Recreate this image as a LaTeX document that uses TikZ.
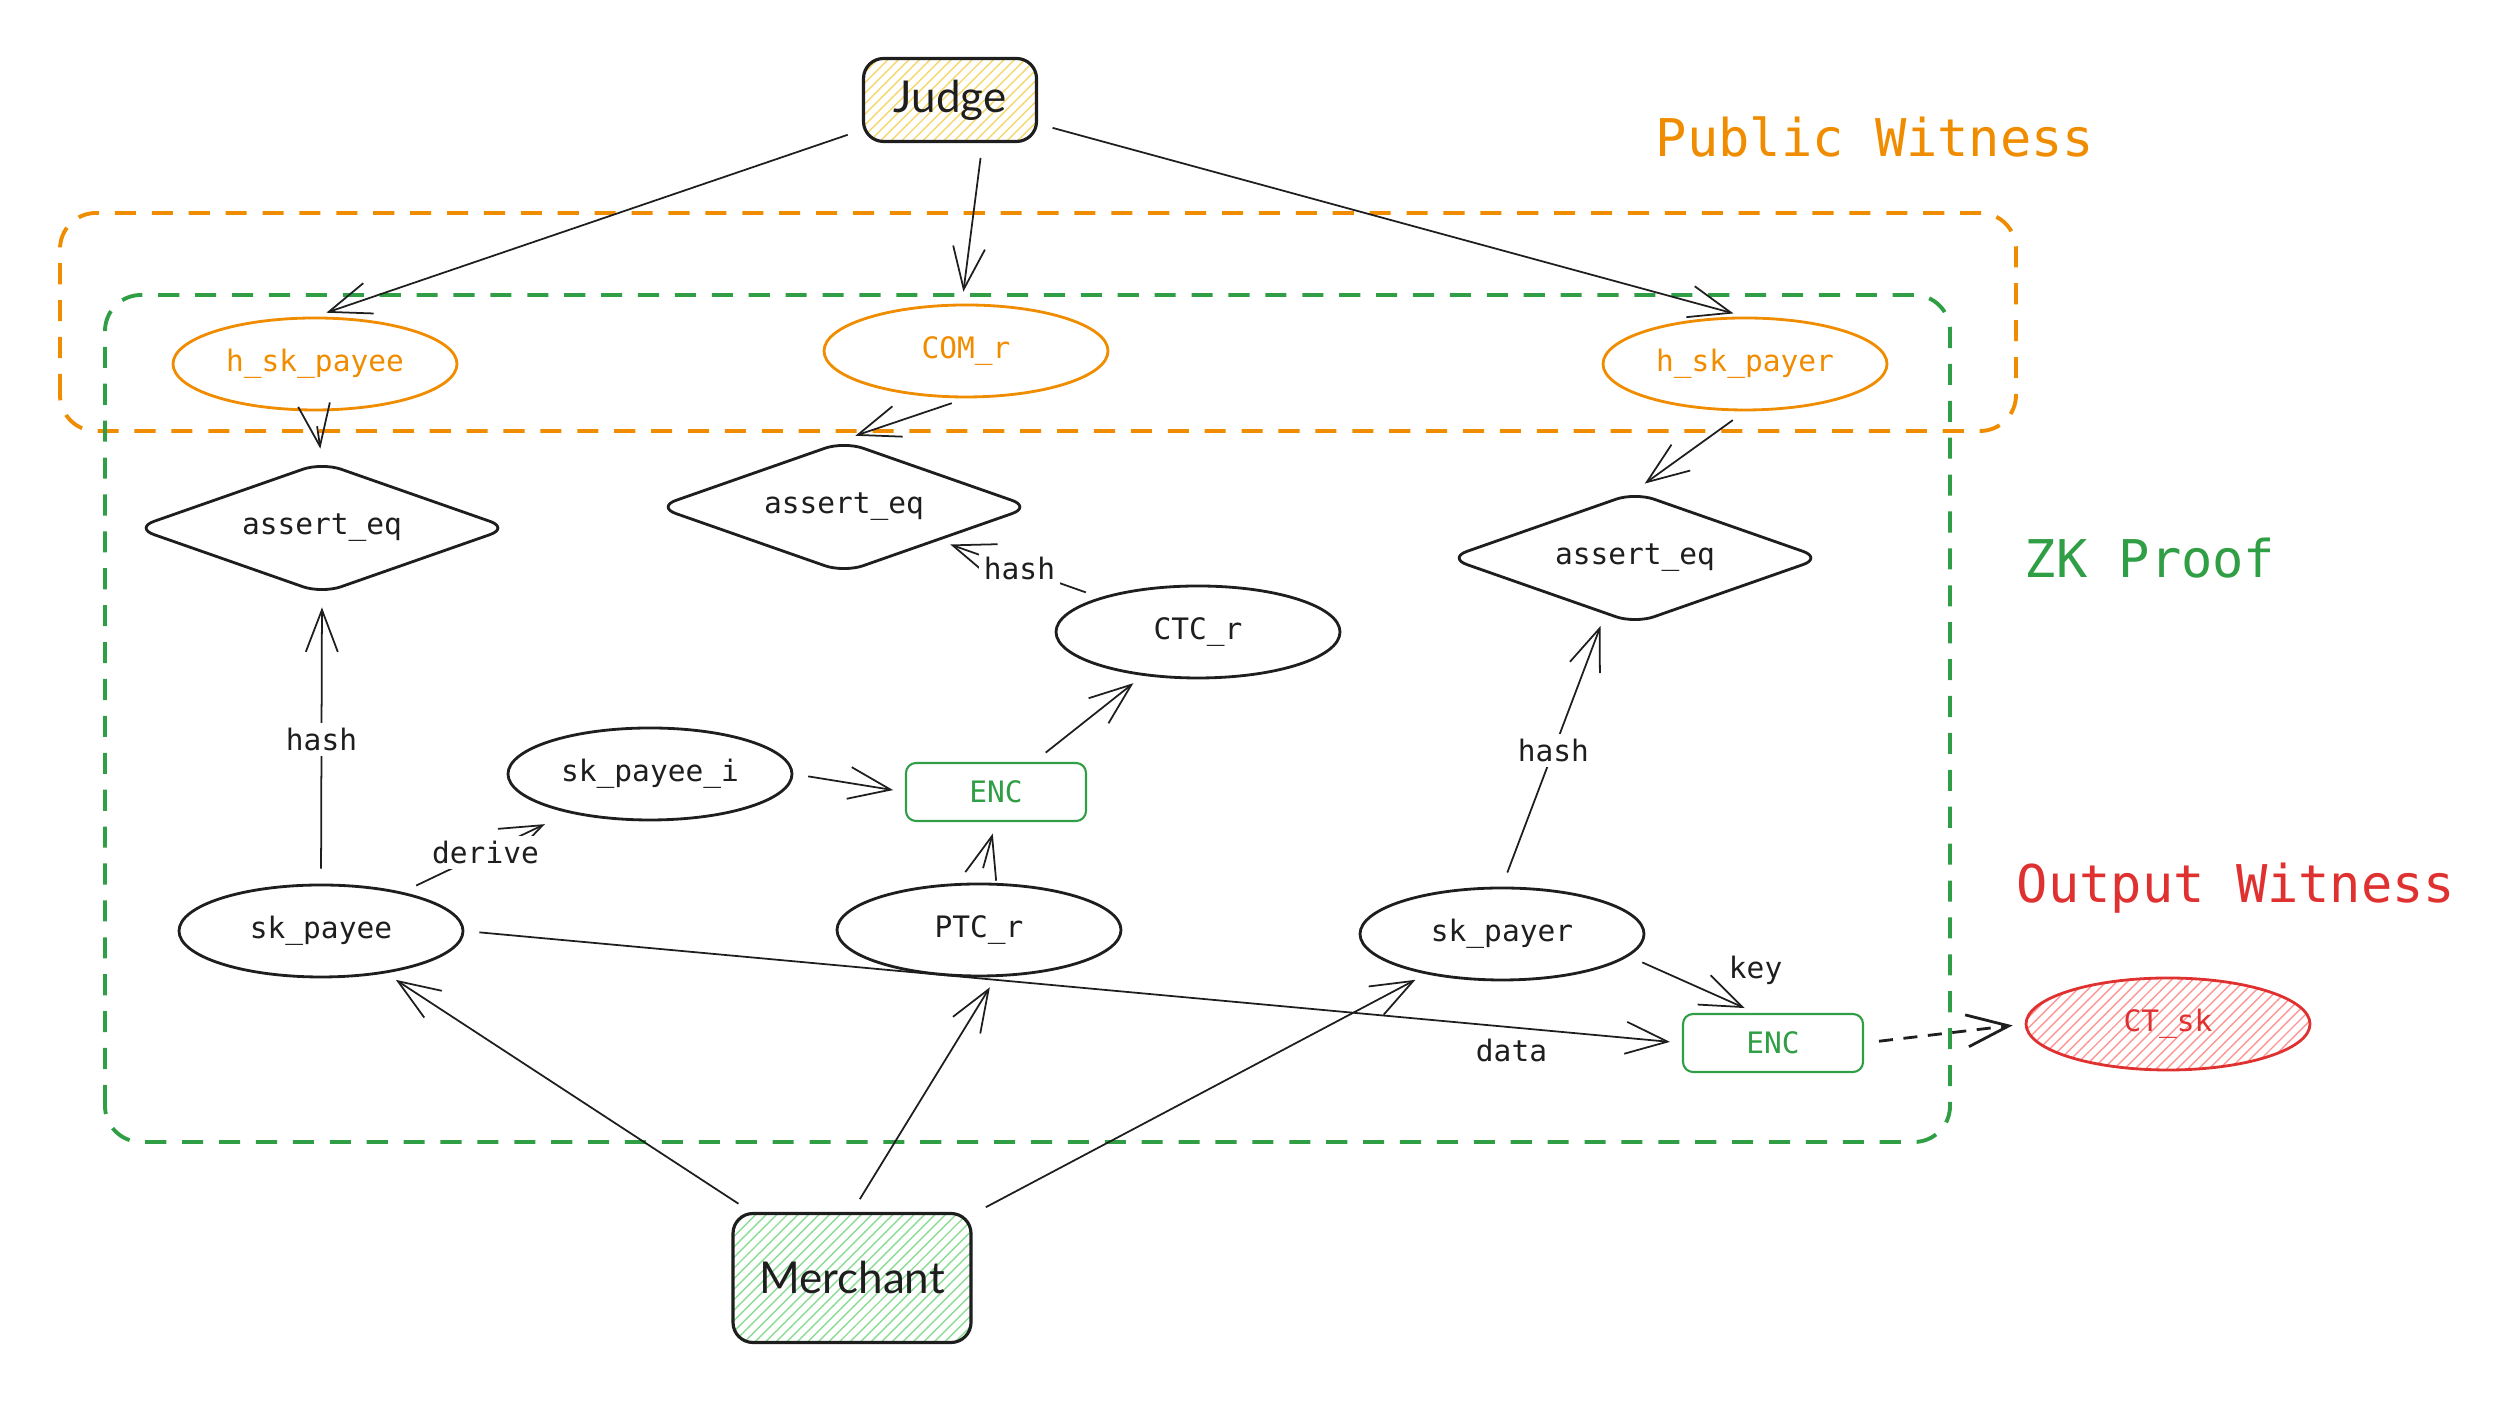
\documentclass[tikz,border=0pt]{standalone}
\usepackage{fontspec}
\setmonofont{DejaVu Sans Mono}
\newfontfamily\handfont{Lato}
\usepackage{tikz}
\usetikzlibrary{shapes,arrows,arrows.meta,positioning,calc,patterns}
\usepackage{xcolor}
\definecolor{inkblack}{RGB}{30,30,30}
\definecolor{brightorange}{RGB}{240,140,0}
\definecolor{brightgreen}{RGB}{47,158,68}
\definecolor{brightred}{RGB}{224,49,49}
\definecolor{hatchyellow}{RGB}{245,215,110}
\definecolor{hatchgreen}{RGB}{140,220,150}
\definecolor{hatchred}{RGB}{255,150,150}

\begin{document}
\begin{tikzpicture}[
    font=\ttfamily\fontsize{8.4}{10}\selectfont,
    every node/.style={inner sep=0pt,text=inkblack},
    val/.style={ellipse,draw=inkblack,line width=0.8pt,minimum width=2.84cm,minimum height=0.92cm},
    pubval/.style={val,draw=brightorange,text=brightorange},
    check/.style={diamond,draw=inkblack,line width=0.8pt,rounded corners=0.2cm,aspect=2.85,minimum width=3.75cm,minimum height=1.32cm},
    enc/.style={rectangle,draw=brightgreen,text=brightgreen,rounded corners=0.1cm,line width=0.6pt,minimum width=1.8cm,minimum height=0.58cm},
    party/.style={rectangle,draw=inkblack,rounded corners=0.2cm,line width=0.9pt,pattern=north east lines,font=\handfont\fontsize{12.5}{14}\selectfont},
    flow/.style={draw=inkblack,line width=0.5pt,-{Straight Barb[length=0.42cm,width=0.32cm]},shorten <=0.15cm,shorten >=0.12cm},
    lbl/.style={fill=white,inner sep=1.5pt},
    region/.style={line width=1.1pt,rounded corners=0.36cm,dash pattern=on 6pt off 4.5pt},
    title/.style={font=\ttfamily\fontsize{14.8}{17}\selectfont}
]
\useasboundingbox (0,0) rectangle (25.18,14.01);

% dashed regions
\draw[region,draw=brightorange] (0.60,9.70) rectangle (20.16,11.88);
\draw[region,draw=brightgreen] (1.05,2.59) rectangle (19.50,11.06);

\node[title,text=brightorange] (pubtitle) at (18.75,12.64) {Public Witness};
\node[title,text=brightgreen] (zktitle) at (21.50,8.43) {ZK Proof};
\node[title,text=brightred] (outtitle) at (22.36,5.13) {Output Witness};

% parties
\node[party,pattern color=hatchyellow,minimum width=1.73cm,minimum height=0.83cm] (judge) at (9.50,13.01) {Judge};
\node[party,pattern color=hatchgreen,minimum width=2.38cm,minimum height=1.29cm] (merchant) at (8.52,1.23) {Merchant};

% public inputs
\node[pubval] (hskpayee) at (3.15,10.37) {h\_sk\_payee};
\node[pubval] (comr) at (9.66,10.50) {COM\_r};
\node[pubval] (hskpayer) at (17.45,10.37) {h\_sk\_payer};

% checks
\node[check] (assert1) at (3.22,8.73) {assert\_eq};
\node[check] (assert2) at (8.44,8.94) {assert\_eq};
\node[check] (assert3) at (16.35,8.43) {assert\_eq};

% private values
\node[val] (ctcr) at (11.98,7.69) {CTC\_r};
\node[val] (skpayeei) at (6.50,6.27) {sk\_payee\_i};
\node[enc] (enc1) at (9.96,6.09) {ENC};
\node[val] (skpayee) at (3.21,4.70) {sk\_payee};
\node[val] (ptcr) at (9.79,4.71) {PTC\_r};
\node[val] (skpayer) at (15.02,4.67) {sk\_payer};
\node[enc] (enc2) at (17.73,3.58) {ENC};
\node[val,draw=brightred,text=brightred,pattern=north east lines,pattern color=hatchred] (ctsk) at (21.68,3.77) {CT\_sk};

% connections
\draw[flow] (judge) -- (hskpayee.north);
\draw[flow] (judge.-53) -- (comr.95);
\draw[flow] (judge) -- (hskpayer.north);
\draw[flow] (hskpayee.south) -- (assert1.north);
\draw[flow] (comr.south) -- (assert2.north);
\draw[flow] (hskpayer.south) -- (assert3.north);
\draw[flow] (ctcr) -- node[lbl] {hash} (assert2);
\draw[flow] (skpayee.north) -- node[lbl] {hash} (assert1.south);
\draw[flow,shorten >=0.26cm] (skpayee) -- node[lbl] {derive} (skpayeei);
\draw[flow] (skpayeei.east) -- (enc1.west);
\draw[flow] (ptcr.north) -- (enc1.south);
\draw[flow] (enc1) -- (ctcr);
\draw[flow] (skpayer.north) -- node[lbl] {hash} (assert3.-118);
\draw[flow] (skpayer.-10) -- node[pos=0.7,above right,inner sep=3pt] {key} (enc2.120);
\draw[flow] (skpayee.east) -- node[pos=0.86,below,inner sep=3pt] {data} (enc2.west);
\draw[flow,line width=0.8pt,dash pattern=on 4pt off 3pt] (enc2.east) -- (ctsk.west);
\draw[flow] (merchant) -- (skpayee);
\draw[flow] (merchant.north) -- (ptcr.-70);
\draw[flow] (merchant) -- (skpayer);
\end{tikzpicture}
\end{document}
